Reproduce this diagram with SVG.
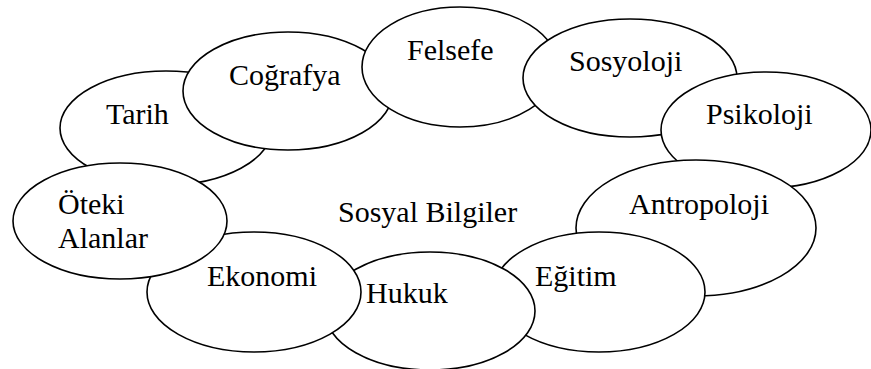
<svg xmlns="http://www.w3.org/2000/svg" width="871" height="369" viewBox="0 0 871 369">
<style>
.n ellipse{fill:#fff;stroke:#000;stroke-width:1.6}
text{font-family:"Liberation Serif","Times New Roman",serif;font-size:30px;fill:#000}
</style>
<rect width="871" height="369" fill="#fff"/>
<g id="tarih" class="n"><ellipse cx="166" cy="128" rx="106" ry="57"/><text x="106" y="124">Tarih</text></g>
<g id="cografya" class="n"><ellipse cx="288" cy="91" rx="105" ry="59"/><text x="229" y="85">Coğrafya</text></g>
<g id="felsefe" class="n"><ellipse cx="460" cy="67" rx="98" ry="60"/><text x="407" y="60">Felsefe</text></g>
<g id="sosyoloji" class="n"><ellipse cx="630" cy="78" rx="107" ry="59"/><text x="569" y="71">Sosyoloji</text></g>
<g id="psikoloji" class="n"><ellipse cx="766" cy="130" rx="105" ry="58"/><text x="706" y="124">Psikoloji</text></g>
<g id="antropoloji" class="n"><ellipse cx="696" cy="228" rx="120" ry="68"/><text x="629" y="214">Antropoloji</text></g>
<g id="egitim" class="n"><ellipse cx="599" cy="292" rx="106" ry="60"/><text x="535" y="286">Eğitim</text></g>
<g id="hukuk" class="n"><ellipse cx="430" cy="311" rx="105" ry="59"/><text x="366" y="303">Hukuk</text></g>
<g id="ekonomi" class="n"><ellipse cx="254" cy="292" rx="107" ry="60"/><text x="207" y="286">Ekonomi</text></g>
<g id="oteki" class="n"><ellipse cx="120" cy="221" rx="107" ry="58"/><text x="58" y="214">Öteki</text><text x="58" y="248">Alanlar</text></g>
<g id="center"><text x="338" y="222">Sosyal Bilgiler</text></g>
<g id="connectors"/>
</svg>
